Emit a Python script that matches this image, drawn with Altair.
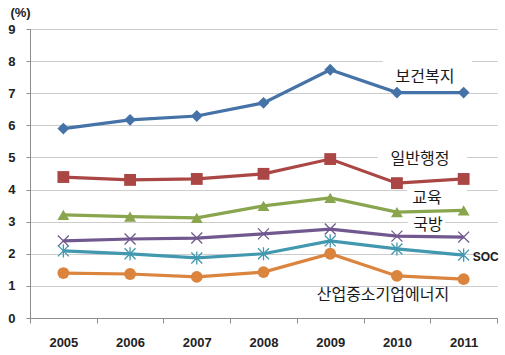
import altair as alt
import pandas as pd

years = [2005, 2006, 2007, 2008, 2009, 2010, 2011]
series_names = ["보건복지", "일반행정", "교육", "국방", "SOC", "산업중소기업에너지"]
health = [5.9, 6.17, 6.29, 6.7, 7.73, 7.02, 7.02]
admin = [4.39, 4.3, 4.33, 4.49, 4.95, 4.2, 4.33]
education = [3.21, 3.16, 3.12, 3.49, 3.74, 3.3, 3.35]
defense = [2.4, 2.46, 2.49, 2.62, 2.77, 2.55, 2.52]
soc = [2.09, 2.0, 1.87, 2.0, 2.4, 2.15, 1.96]
industry = [1.4, 1.37, 1.28, 1.43, 2.0, 1.31, 1.21]
y_ticks = [0, 1, 2, 3, 4, 5, 6, 7, 8, 9]

colors = ["#4572A7", "#AA4643", "#89A54E", "#71588F", "#4198AF", "#DB843D"]
X_PATH = "M-1,-1L1,1M-1,1L1,-1"
STAR_PATH = "M-1,-1L1,1M-1,1L1,-1M0,-1.2L0,1.2"
shapes = ["diamond", "square", "triangle-up", X_PATH, STAR_PATH, "circle"]

rows = []
for name, vals in zip(series_names, [health, admin, education, defense, soc, industry]):
    for yr, v in zip(years, vals):
        rows.append({"series": name, "year": yr, "value": v})
df = pd.DataFrame(rows)

W, H = 467, 289
x_enc = alt.X(
    "year:Q",
    scale=alt.Scale(domain=[2004.5, 2011.5], nice=False, zero=False),
    axis=alt.Axis(
        values=[2004.5, 2005, 2005.5, 2006, 2006.5, 2007, 2007.5, 2008, 2008.5,
                2009, 2009.5, 2010, 2010.5, 2011, 2011.5],
        labelExpr="datum.value % 1 === 0 ? '' + datum.value : ''",
        tickOpacity={"condition": {"test": "datum.value % 1 === 0", "value": 0}, "value": 1},
        grid=False, title=None, tickSize=5, tickColor="#8c8c8c", domainColor="#8c8c8c",
        labelFont="Liberation Sans", labelFontWeight="bold", labelFontSize=13,
        labelColor="#222222", labelPadding=13, labelFlush=False,
    ),
)
y_enc = alt.Y(
    "value:Q",
    scale=alt.Scale(domain=[0, 9], nice=False),
    axis=alt.Axis(
        values=y_ticks, format="d", grid=True, gridDash=[1, 1], gridColor="#9a9a9a",
        gridWidth=1, tickSize=4, tickColor="#8c8c8c", domainColor="#8c8c8c",
        labelFont="Liberation Sans", labelFontWeight="bold", labelFontSize=13,
        labelColor="#222222", labelPadding=11,
        title="(%)", titleAngle=0, titleAlign="center", titleBaseline="middle",
        titleX=-10, titleY=-17, titleFont="Liberation Sans", titleFontWeight="bold",
        titleFontSize=13, titleColor="#222222",
    ),
)
color_enc = alt.Color("series:N", scale=alt.Scale(domain=series_names, range=colors), legend=None)
shape_enc = alt.Shape("series:N", scale=alt.Scale(domain=series_names, range=shapes), legend=None)

base = alt.Chart(df)

# white label boxes (anchor series, anchor year, offsets)
boxes = [
    ("보건복지", 2010, -14, 75, -35, -5),
    ("일반행정", 2010, -19, 70, -35, -13),
    ("교육", 2010, 10, 70, -26, -4),
    ("국방", 2010, 11, 48, -22, -2),
]
layers = []
for name, yr, xo, x2o, yo, y2o in boxes:
    layers.append(
        base.transform_filter((alt.datum.series == name) & (alt.datum.year == yr))
        .mark_rect(color="white", xOffset=xo, x2Offset=x2o, yOffset=yo, y2Offset=y2o)
        .encode(x=x_enc, x2="year:Q", y=y_enc, y2="value:Q")
    )

lines = base.mark_line(strokeWidth=3.2).encode(x=x_enc, y=y_enc, color=color_enc, detail="series:N")
filled_pts = base.transform_filter(
    alt.FieldOneOfPredicate(field="series", oneOf=["보건복지", "일반행정", "교육", "산업중소기업에너지"])
).mark_point(filled=True, opacity=1, size=140).encode(x=x_enc, y=y_enc, color=color_enc, shape=shape_enc)
stroked_pts = base.transform_filter(
    alt.FieldOneOfPredicate(field="series", oneOf=["국방", "SOC"])
).mark_point(filled=False, opacity=1, size=120, strokeWidth=1.3).encode(
    x=x_enc, y=y_enc, color=color_enc, shape=shape_enc)
layers += [lines, filled_pts, stroked_pts]

labels = [
    ("보건복지", 2010, 28, -16, "center", 16, "normal", "Noto Sans CJK KR"),
    ("일반행정", 2010, 23, -24, "center", 16, "normal", "Noto Sans CJK KR"),
    ("교육", 2010, 30, -14, "center", 16, "normal", "Noto Sans CJK KR"),
    ("국방", 2010, 31, -11, "center", 16, "normal", "Noto Sans CJK KR"),
    ("SOC", 2011, 9, 2, "left", 12, "bold", "Liberation Sans"),
    ("산업중소기업에너지", 2010, -14, 19, "center", 16, "normal", "Noto Sans CJK KR"),
]
for name, yr, dx, dy, align, fs, fw, font in labels:
    layers.append(
        base.transform_filter((alt.datum.series == name) & (alt.datum.year == yr))
        .mark_text(dx=dx, dy=dy, align=align, baseline="middle", fontSize=fs,
                   fontWeight=fw, font=font, color="#1a1a1a")
        .encode(x=x_enc, y=y_enc, text="series:N")
    )

chart = alt.layer(*layers).properties(
    width=W, height=H,
    autosize=alt.AutoSizeParams(type="none"),
    padding={"left": 30, "top": 29, "right": 8, "bottom": 37},
    background="white",
).configure_view(stroke=None)

chart.save("out.html", embed_options={"renderer": "svg", "actions": False})
